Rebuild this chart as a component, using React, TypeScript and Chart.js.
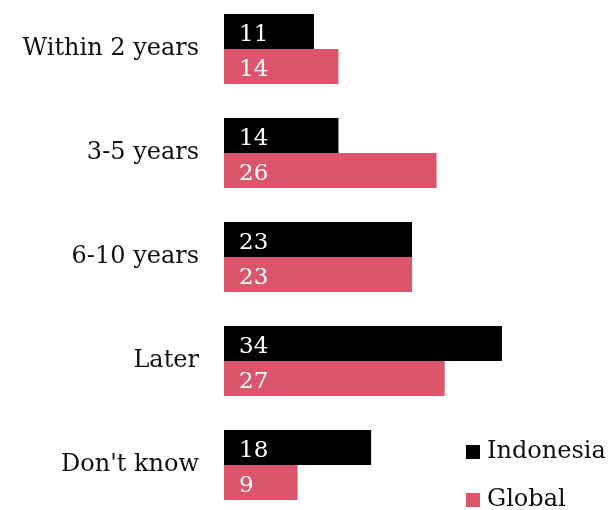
import React, { useEffect, useRef } from "react";
import { Chart, registerables } from "chart.js";

Chart.register(...registerables);

const categories = ["Within 2 years", "3-5 years", "6-10 years", "Later", "Don't know"];
const seriesNames = ["Indonesia", "Global"];
const indonesiaValues = [11, 14, 23, 34, 18];
const globalValues = [14, 26, 23, 27, 9];
const seriesColors = ["#000000", "#DB556D"];

const FONT = "'DejaVu Serif', Georgia, serif";

const barLabelPlugin = {
  id: "barLabels",
  afterDatasetsDraw(chart: any) {
    const ctx = chart.ctx;
    ctx.save();
    ctx.fillStyle = "#ffffff";
    ctx.font = `23px ${FONT}`;
    ctx.textBaseline = "middle";
    ctx.textAlign = "left";
    chart.data.datasets.forEach((ds: any, i: number) => {
      const meta = chart.getDatasetMeta(i);
      meta.data.forEach((bar: any, j: number) => {
        ctx.fillText(String(ds.data[j]), bar.base + 15, bar.y + 4);
      });
    });
    ctx.restore();
  },
};

const legendPlugin = {
  id: "customLegend",
  afterDraw(chart: any) {
    const ctx = chart.ctx;
    ctx.save();
    ctx.font = `24px ${FONT}`;
    ctx.textBaseline = "middle";
    ctx.textAlign = "left";
    const x0 = 466;
    const ys = [455, 503];
    chart.data.datasets.forEach((ds: any, i: number) => {
      const y = ys[i];
      ctx.fillStyle = ds.backgroundColor;
      ctx.fillRect(x0, y - 7, 14, 14);
      ctx.fillStyle = "#111111";
      ctx.fillText(ds.label, x0 + 21, y);
    });
    ctx.restore();
  },
};

export default function App() {
  const ref = useRef<HTMLCanvasElement>(null);
  useEffect(() => {
    if (!ref.current) return;
    const chart = new Chart(ref.current, {
      type: "bar",
      data: {
        labels: categories,
        datasets: [
          { label: seriesNames[0], data: indonesiaValues, backgroundColor: seriesColors[0] },
          { label: seriesNames[1], data: globalValues, backgroundColor: seriesColors[1] },
        ],
      },
      options: {
        indexAxis: "y",
        animation: false,
        responsive: false,
        maintainAspectRatio: false,
        layout: { padding: { left: 0, right: 62, top: 0, bottom: 0 } },
        datasets: { bar: { barPercentage: 1, categoryPercentage: 0.673 } },
        plugins: { legend: { display: false }, tooltip: { enabled: false } },
        scales: {
          x: { display: false, min: 0, max: 40 },
          y: {
            grid: { display: false, drawTicks: false },
            border: { display: false },
            ticks: { color: "#111111", font: { family: FONT, size: 24 }, padding: 25 },
            afterFit(scale: any) {
              scale.width = 224;
              scale.paddingTop = 0;
              scale.paddingBottom = 0;
            },
          },
        },
      },
      plugins: [barLabelPlugin, legendPlugin],
    });
    return () => chart.destroy();
  }, []);
  return (
    <div style={{ position: "absolute", left: 0, top: -3, width: 613, height: 520 }}>
      <canvas ref={ref} width={613} height={520} style={{ display: "block" }} />
    </div>
  );
}
